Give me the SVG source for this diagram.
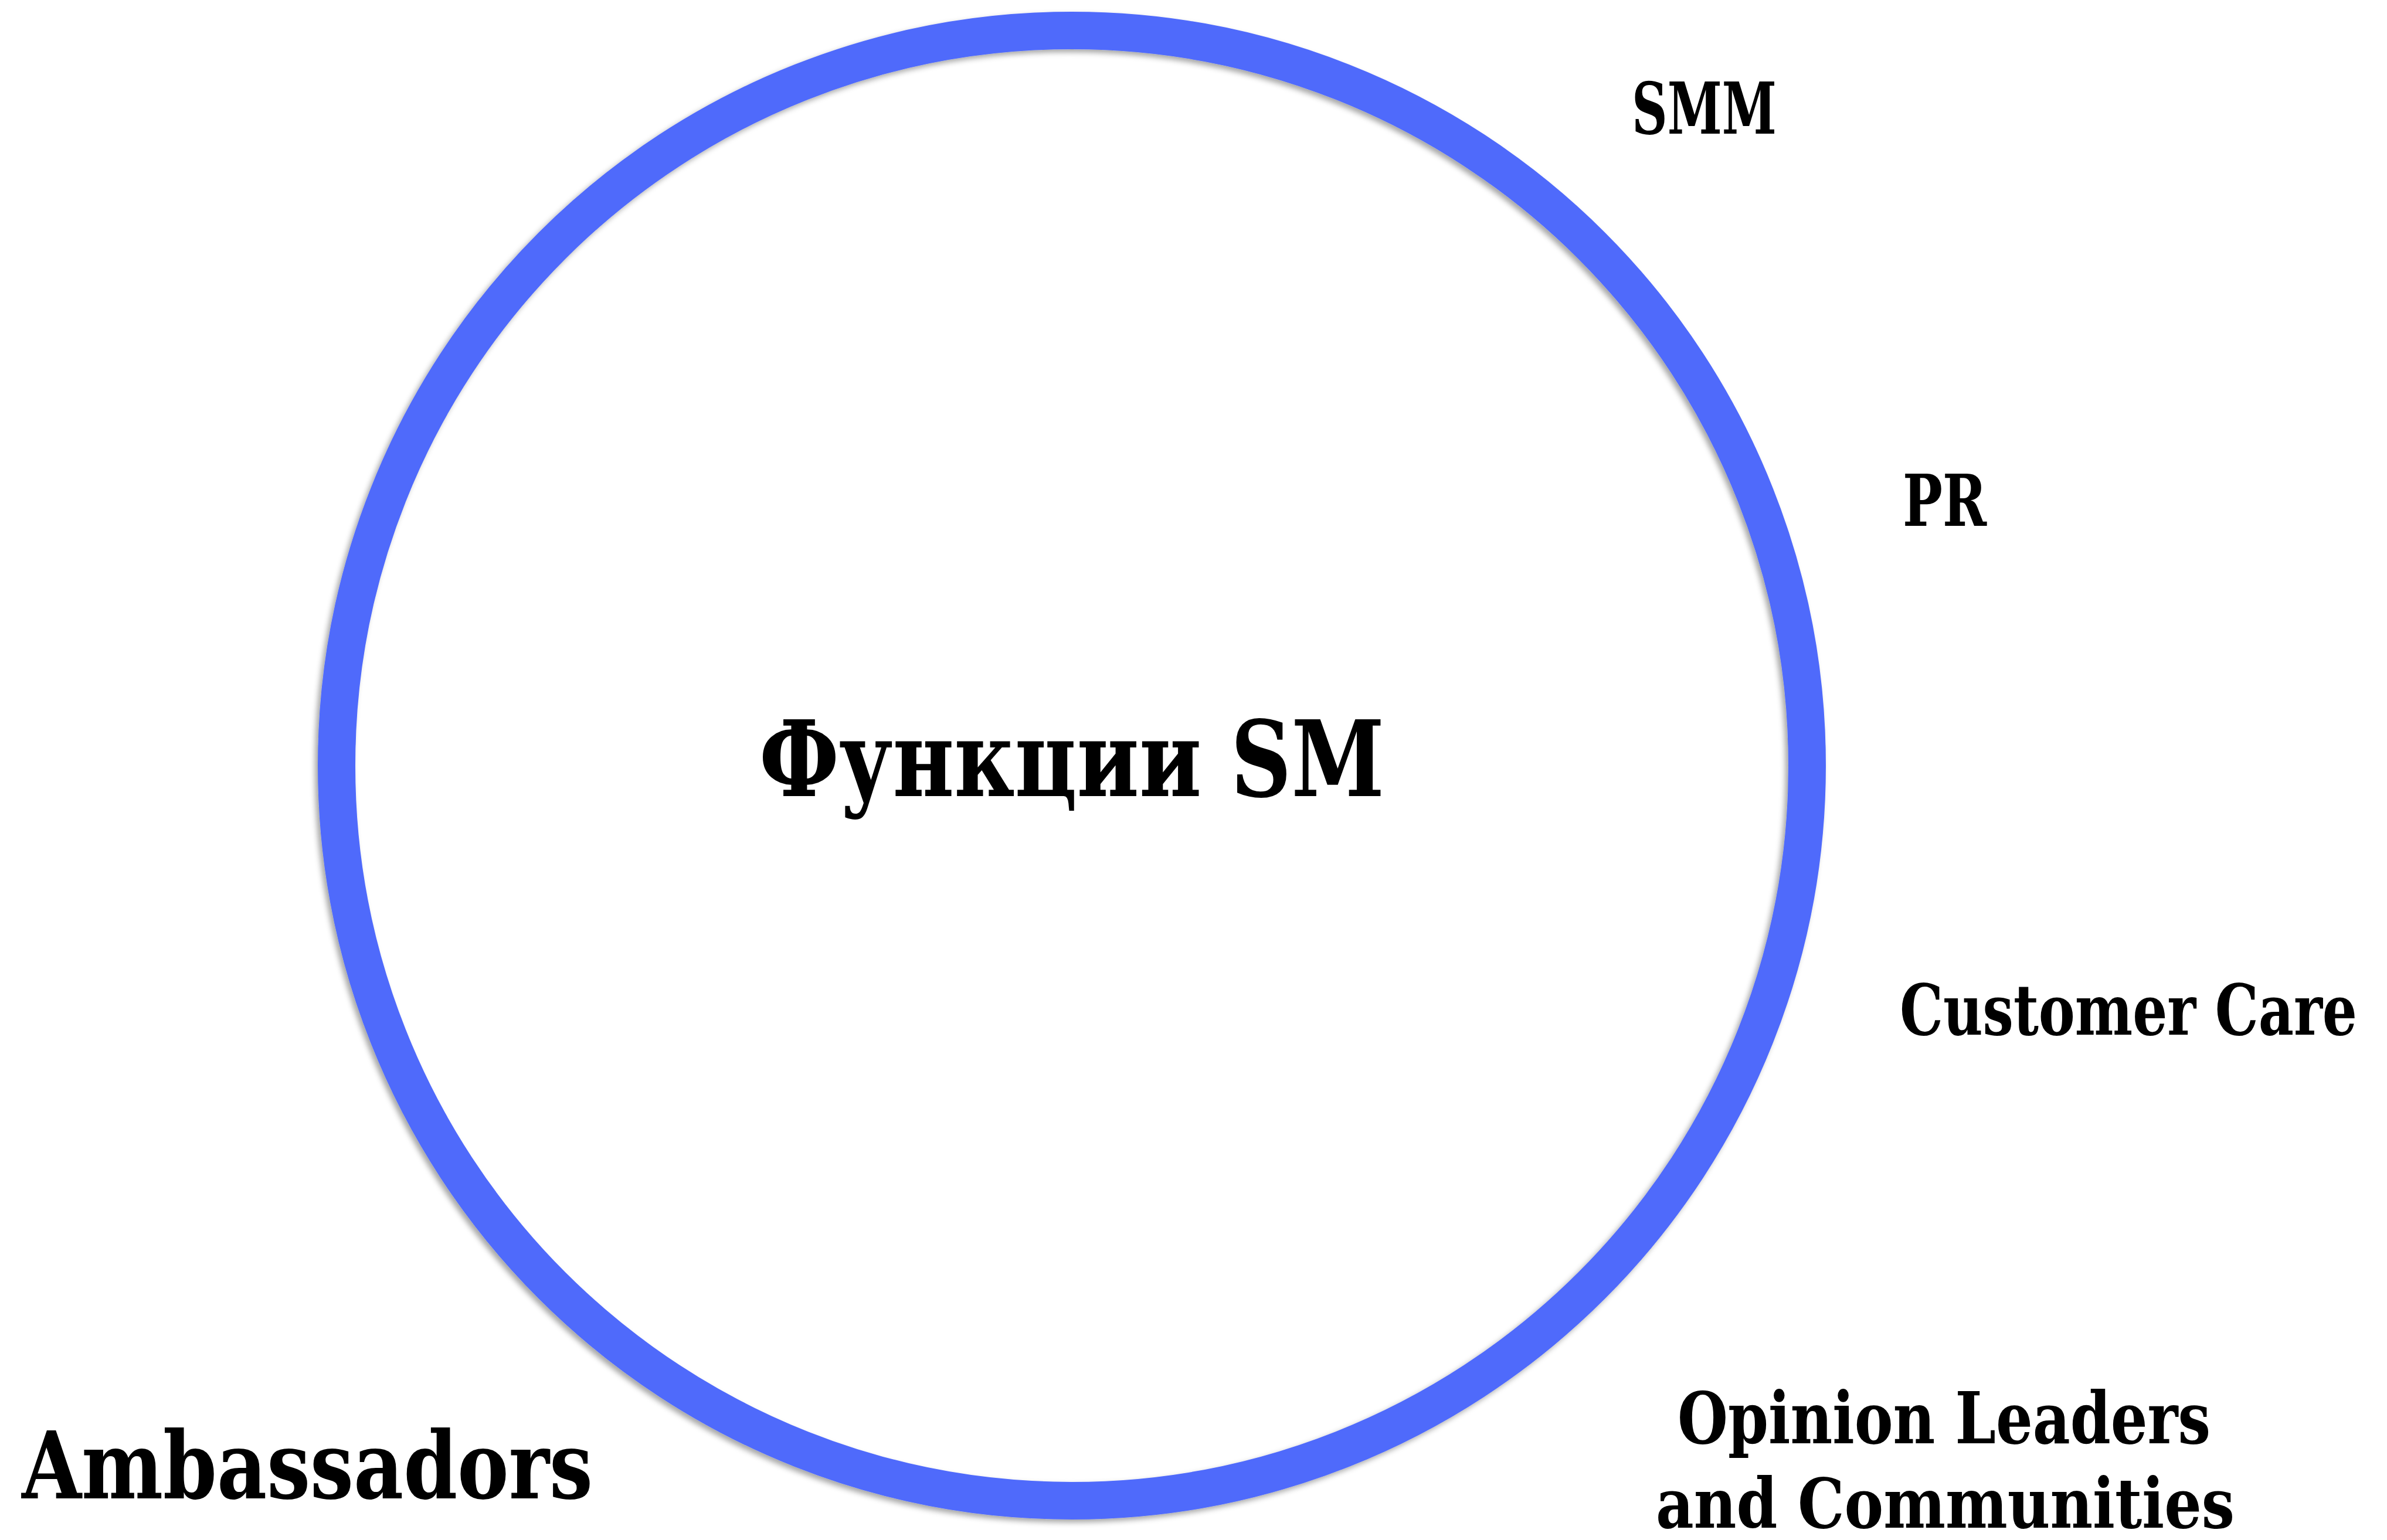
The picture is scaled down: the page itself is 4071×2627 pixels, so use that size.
<svg xmlns="http://www.w3.org/2000/svg" width="4071" height="2627" viewBox="0 0 4071 2627">
<defs>
<filter id="sh" x="-10%" y="-10%" width="120%" height="120%">
<feDropShadow dx="-5" dy="5" stdDeviation="5" flood-color="#000" flood-opacity="0.35"/>
</filter>
<style>
.t{font-family:"DejaVu Serif Condensed","DejaVu Serif","Liberation Serif",serif;font-weight:bold;fill:#000;}
.s{font-size:122px;}
</style>
</defs>
<rect x="0" y="0" width="4071" height="2627" fill="#fff"/>
<g id="ring">
<circle cx="1828" cy="1306" r="1254" fill="none" stroke="#506BFB" stroke-width="64" filter="url(#sh)"/>
</g>
<g id="center"><text class="t" x="1295" y="1358" font-size="180" textLength="1066" lengthAdjust="spacingAndGlyphs">Функции SM</text></g>
<g id="smm"><text class="t s" x="2783" y="228" textLength="247" lengthAdjust="spacingAndGlyphs">SMM</text></g>
<g id="pr"><text class="t s" x="3245" y="897" textLength="143" lengthAdjust="spacingAndGlyphs">PR</text></g>
<g id="customer-care"><text class="t" transform="translate(3240,1765) scale(0.8,1)" x="0" y="0" font-size="120" textLength="975" lengthAdjust="spacingAndGlyphs">Customer Care</text></g>
<g id="opinion-leaders">
<text class="t s" x="2861" y="2462" textLength="909" lengthAdjust="spacingAndGlyphs">Opinion Leaders</text>
<text class="t" x="2824" y="2606" font-size="118" textLength="987" lengthAdjust="spacingAndGlyphs">and Communities</text>
</g>
<g id="ambassadors"><text class="t" x="37" y="2556" font-size="160" textLength="974" lengthAdjust="spacingAndGlyphs">Ambassadors</text></g>
<g id="connectors"></g>
</svg>
